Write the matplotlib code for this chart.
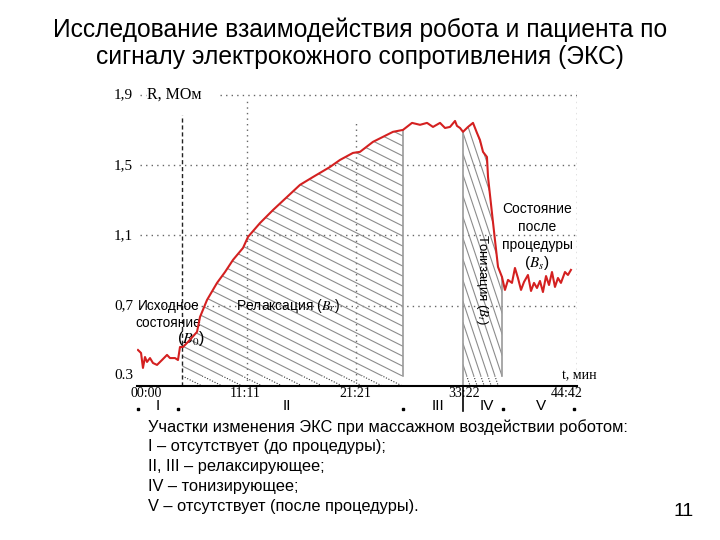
import numpy as np
import matplotlib.pyplot as plt
from matplotlib.patches import Polygon

plt.rcParams['font.family'] = ['Liberation Sans', 'DejaVu Sans']
plt.rcParams['mathtext.fontset'] = 'stix'

# ---- данные ----
# время, мин
t_min = [0.1, 0.42, 0.62, 0.83, 1.04, 1.35, 1.66, 2.08, 2.6, 3.12, 3.43, 3.95, 4.26, 4.47, 4.78,
         5.30, 6.24, 6.55, 7.28, 8.32, 9.15, 9.98, 11.02, 11.54, 12.79, 14.14, 15.59, 16.94,
         18.30, 20.06, 21.10, 22.45, 23.18, 24.53, 26.61, 27.65, 28.59, 29.42, 30.15, 30.77,
         31.50, 32.02, 32.54, 33.06, 33.26, 33.58, 33.89, 34.41, 34.93, 35.34, 35.65, 35.97,
         36.38, 36.49, 36.90, 37.21, 37.53, 37.94, 38.25, 38.57, 38.98, 39.29, 39.60, 39.92,
         40.23, 40.64, 40.96, 41.27, 41.58, 41.89, 42.20, 42.52, 42.83, 43.14, 43.45, 43.76,
         44.07, 44.49, 44.80, 45.11]
# сопротивление R, МОм
r_mom = [0.448, 0.431, 0.346, 0.408, 0.380, 0.402, 0.374, 0.363, 0.391, 0.420, 0.402, 0.402,
         0.391, 0.465, 0.465,
         0.494, 0.551, 0.636, 0.733, 0.830, 0.892, 0.961, 1.029, 1.092, 1.171, 1.245, 1.319,
         1.388, 1.433, 1.490, 1.530, 1.570, 1.576, 1.633, 1.690, 1.701, 1.741, 1.730, 1.741,
         1.718, 1.741, 1.712, 1.718, 1.752, 1.724, 1.712, 1.690, 1.718, 1.741, 1.684, 1.644,
         1.576, 1.547, 1.433, 1.228, 1.075, 0.921, 0.864, 0.790, 0.847, 0.830, 0.915, 0.858,
         0.790, 0.835, 0.875, 0.784, 0.830, 0.801, 0.841, 0.778, 0.869, 0.818, 0.892, 0.807,
         0.858, 0.830, 0.892, 0.875, 0.904]

# границы участков I..V, мин
bounds = [4.7, 27.65, 33.9, 37.95]
zones = ['I', 'II', 'III', 'IV', 'V']
zone_pos = [2.2, 15.6, 31.3, 36.4, 42.0]

y_ticks = [0.3, 0.7, 1.1, 1.5, 1.9]
y_labels = ['0.3', '0,7', '1,1', '1,5', '1,9']
x_tick_pos = [1.0, 11.2, 22.7, 34.0, 44.7]
x_labels = ['00:00', '11:11', '21:21', '33:22', '44:42']

legend_lines = [
    'Участки изменения ЭКС при массажном воздействии роботом:',
    'I – отсутствует (до процедуры);',
    'II, III – релаксирующее;',
    'IV – тонизирующее;',
    'V – отсутствует (после процедуры).',
]

W, H = 720, 540
Y0 = 0.243  # уровень оси времени


def fx(px):
    return px / W


def fy(py):
    return 1 - py / H


fig = plt.figure(figsize=(7.2, 5.4), dpi=100)
ax = fig.add_axes([fx(137), fy(386), 440 / W, 300 / H])
ax.set_xlim(0, 45.74)
ax.set_ylim(Y0, 1.951)
ax.axis('off')

t = np.array(t_min)
r = np.array(r_mom)
serif = ['Liberation Serif', 'DejaVu Serif']

# сетка (пунктир)
dot = dict(color='#666666', linestyle=(0, (1, 3)), linewidth=1.0)
for yv in y_ticks[1:4]:
    ax.plot([0.3, 45.74], [yv, yv], **dot)
ax.plot([0.3, 0.9], [1.9, 1.9], **dot)
ax.plot([8.6, 45.74], [1.9, 1.9], **dot)
ax.plot([11.43, 11.43], [Y0, 1.87], **dot)
ax.plot([22.77, 22.77], [Y0, 1.75], **dot)
ax.plot([45.74, 45.74], [Y0, 1.92], **dot)


# штриховка участков: наклонные линии, обрезанные по области
def hatch_zone(a, b, slope, step):
    tt = np.linspace(a, b, 200)
    rr = np.interp(tt, t, r)
    upper = Polygon(np.column_stack([np.r_[tt, b, a], np.r_[rr, 0.3, 0.3]]),
                    closed=True, facecolor='none', edgecolor='none')
    lower = Polygon([[a, Y0], [b, Y0], [b, 0.3], [a, 0.3]], closed=True,
                    facecolor='none', edgecolor='none')
    ax.add_patch(upper)
    ax.add_patch(lower)
    c_hi = 2.3 - slope * (b - a)
    for c in np.arange(Y0, c_hi, step):
        xs = np.array([a, b])
        ys = c + slope * (xs - a)
        ln, = ax.plot(xs, ys, color='#8c8c8c', linewidth=0.8)
        ln.set_clip_path(upper)
        ln2, = ax.plot(xs, ys, color='#333333', linewidth=0.8, linestyle=(0, (1, 1.5)))
        ln2.set_clip_path(lower)


hatch_zone(bounds[0], bounds[1], -0.0274, 0.057)
hatch_zone(bounds[2], bounds[3], -0.164, 0.12)

# вертикальные границы
ax.plot([bounds[0]] * 2, [Y0, 1.786], color='#222222', linestyle=(0, (3, 2)), linewidth=1)
ax.plot([bounds[1]] * 2, [0.30, np.interp(bounds[1], t, r)], color='#999999', linewidth=1.2)
ax.plot([bounds[2]] * 2, [Y0, np.interp(bounds[2], t, r)], color='#999999', linewidth=1.2)
ax.plot([bounds[3]] * 2, [0.30, np.interp(bounds[3], t, r)], color='#999999', linewidth=1.2)

# кривая ЭКС
ax.plot(t, r, color='#d42020', linewidth=1.5, zorder=5)

# ось времени
ax.plot([0, 45.74], [Y0, Y0], color='black', linewidth=1.5, clip_on=False)
ax.plot([bounds[2]] * 2, [0.10, Y0], color='black', linewidth=1.2, clip_on=False)

# подписи осей
for yv, lab in zip(y_ticks, y_labels):
    ax.text(-0.4, yv, lab, ha='right', va='center', fontsize=11, family=serif,
            clip_on=False)
ax.text(1.0, 1.9, 'R, МОм', ha='left', va='center', fontsize=11.5, family=serif)
ax.text(44.2, 0.30, 't, мин', ha='left', va='center', fontsize=10, family=serif,
        clip_on=False)
for xp, lab in zip(x_tick_pos, x_labels):
    ax.text(xp, 0.238, lab, ha='center', va='top', fontsize=10, family=serif,
            clip_on=False)
for xp, lab in zip(zone_pos, zones):
    ax.text(xp, 0.13, lab, ha='center', va='center', fontsize=11, clip_on=False)
for xp in [0.1, 4.3, 27.6, 38.0, 45.4]:
    ax.plot([xp], [0.11], marker='s', markersize=1.5, color='black', clip_on=False)

# надписи на графике
ax.text(3.25, 0.65, 'Исходное\nсостояние', ha='center', va='center', fontsize=9.8,
        linespacing=1.3)
ax.text(5.6, 0.515, r'($\mathit{B}_0$)', ha='center', va='center', fontsize=11.5)
ax.text(10.3, 0.70, r'Релаксация ($\mathit{B}_r$)', ha='left', va='center', fontsize=10)
ax.text(35.9, 0.85, r'Тонизация ($\mathit{B}_t$)', ha='center', va='center', fontsize=9.5,
        rotation=270)
ax.text(41.6, 1.15, 'Состояние\nпосле\nпроцедуры', ha='center', va='center',
        fontsize=10, linespacing=1.35)
ax.text(41.6, 0.945, r'($\mathit{B}_s$)', ha='center', va='center', fontsize=11)

# заголовок и пояснения
fig.text(0.5, fy(30), 'Исследование взаимодействия робота и пациента по',
         ha='center', va='center', fontsize=17.7)
fig.text(0.5, fy(57), 'сигналу электрокожного сопротивления (ЭКС)',
         ha='center', va='center', fontsize=17.7)
for i, line in enumerate(legend_lines):
    fig.text(fx(148), fy(427 + 20 * i), line, ha='left', va='center', fontsize=11.8)
fig.text(fx(684), fy(512), '11', ha='center', va='center', fontsize=14)

fig.savefig('out.png', dpi=100)
